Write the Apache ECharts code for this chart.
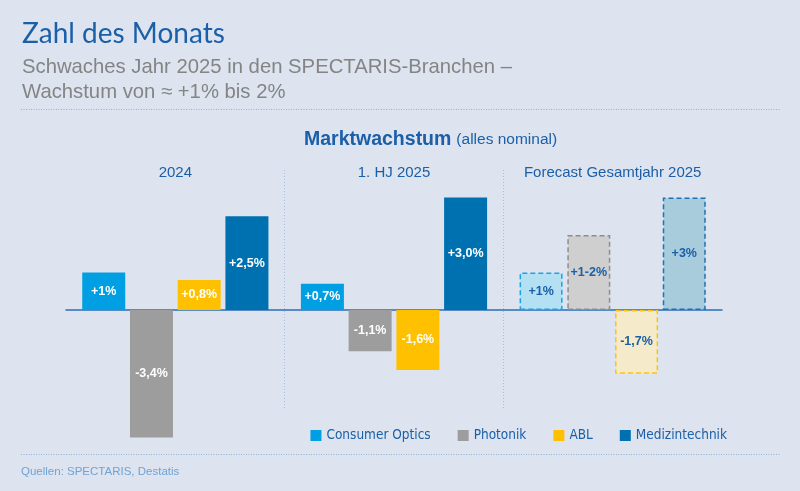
<!DOCTYPE html>
<html><head><meta charset="utf-8">
<script src="https://cdn.jsdelivr.net/npm/echarts@6/dist/echarts.min.js"></script>
<style>html,body{margin:0;padding:0;background:#dde4ef}#c{width:800px;height:491px}</style>
</head><body><div id="c"></div>
<script>
const categories = ['2024', '1. HJ 2025', 'Forecast Gesamtjahr 2025'];
const seriesNames = ['Consumer Optics', 'Photonik', 'ABL', 'Medizintechnik'];
const consumerOptics = [1, 0.7, 1];
const photonik = [-3.4, -1.1, 2];
const abl = [0.8, -1.6, -1.7];
const medizintechnik = [2.5, 3.0, 3];
const consumerLabels = ['+1%', '+0,7%', '+1%'];
const photonikLabels = ['-3,4%', '-1,1%', '+1-2%'];
const ablLabels = ['+0,8%', '-1,6%', '-1,7%'];
const medizinLabels = ['+2,5%', '+3,0%', '+3%'];
const forecastIndex = 2;

const BLUE = '#1a5fa8';
const chart = echarts.init(document.getElementById('c'), null, {renderer: 'canvas'});

function makeSeries(name, values, labels, color, fcFill, fcBorder) {
  return {
    type: 'bar', name: name, xAxisIndex: 0, yAxisIndex: 0,
    barWidth: 43, barGap: '11%',
    itemStyle: {color: color},
    label: {
      show: true, position: 'inside', color: '#fff', fontWeight: 'bold',
      fontSize: 12.5, fontFamily: 'Liberation Sans, Arial, sans-serif',
      formatter: p => labels[p.dataIndex]
    },
    data: values.map((v, i) => i === forecastIndex ? {
      value: v,
      itemStyle: {color: fcFill, borderColor: fcBorder, borderWidth: 1.5, borderType: [5, 3]},
      label: {color: BLUE}
    } : v)
  };
}

const option = {
  backgroundColor: '#dde4ef',
  animation: false,
  title: [
    {text: 'Zahl des Monats', left: 22, top: 19.5, padding: 0,
     textStyle: {fontFamily: 'Lato, sans-serif', fontWeight: 'normal', fontSize: 28, color: BLUE}},
    {text: 'Schwaches Jahr 2025 in den SPECTARIS-Branchen –\nWachstum von ≈ +1% bis 2%', left: 22, top: 55.5, padding: 0,
     textStyle: {fontFamily: 'Liberation Sans, Arial, sans-serif', fontWeight: 'normal', fontSize: 20.3, lineHeight: 24.5, color: '#848484'}},
    {text: '{b|Marktwachstum} {n|(alles nominal)}', left: 304, top: 129.5, padding: 0,
     textStyle: {rich: {
       b: {fontFamily: 'Liberation Sans, Arial, sans-serif', fontWeight: 'bold', fontSize: 19.5, color: BLUE},
       n: {fontFamily: 'Liberation Sans, Arial, sans-serif', fontWeight: 'normal', fontSize: 15.5, color: BLUE}
     }}},
    {text: 'Quellen: SPECTARIS, Destatis', left: 21, top: 466, padding: 0,
     textStyle: {fontFamily: 'Liberation Sans, Arial, sans-serif', fontWeight: 'normal', fontSize: 11.5, color: '#6fa2d6'}}
  ],
  legend: {
    data: seriesNames, right: 73, top: 428.5, padding: 0, icon: 'rect', itemWidth: 11, itemHeight: 11, itemGap: 27,
    textStyle: {fontFamily: 'DejaVu Sans Condensed, sans-serif', fontSize: 13.5, color: BLUE}
  },
  grid: [
    {left: 66, right: 78, top: 160, bottom: 31},
    {left: 66, right: 78, top: 170, bottom: 81}
  ],
  xAxis: [
    {type: 'category', gridIndex: 0, data: categories, position: 'bottom',
     axisLine: {onZero: true, lineStyle: {color: '#2a6db5', width: 1.5}},
     axisTick: {show: false}, axisLabel: {show: false}, splitLine: {show: false}},
    {type: 'category', gridIndex: 0, data: categories, position: 'top',
     axisLine: {show: false}, axisTick: {show: false}, splitLine: {show: false},
     axisLabel: {inside: true, interval: 0, margin: 5, fontFamily: 'Liberation Sans, Arial, sans-serif', fontSize: 15, color: BLUE}},
    {type: 'value', gridIndex: 1, min: 0, max: 3, interval: 1,
     axisLine: {show: false}, axisTick: {show: false}, axisLabel: {show: false},
     splitLine: {show: true, showMinLine: false, showMaxLine: false, lineStyle: {color: '#a7c0e0', type: [1, 2], width: 1}}}
  ],
  yAxis: [
    {type: 'value', gridIndex: 0, min: -4, max: 4, show: false},
    {type: 'value', gridIndex: 1, min: 0, max: 1, show: false}
  ],
  graphic: [
    {type: 'line', shape: {x1: 21, y1: 109.5, x2: 780, y2: 109.5}, style: {stroke: '#8fb3dc', lineWidth: 1, lineDash: [1, 1.5]}},
    {type: 'line', shape: {x1: 21, y1: 454.5, x2: 780, y2: 454.5}, style: {stroke: '#8fb3dc', lineWidth: 1, lineDash: [1, 1.5]}}
  ],
  series: [
    makeSeries(seriesNames[0], consumerOptics, consumerLabels, '#009fe3', '#b4e0f4', '#1ba3e6'),
    makeSeries(seriesNames[1], photonik, photonikLabels, '#9d9d9d', '#cfcfcf', '#8e8e8e'),
    makeSeries(seriesNames[2], abl, ablLabels, '#ffc000', '#f5ebca', '#ffc313'),
    makeSeries(seriesNames[3], medizintechnik, medizinLabels, '#0071b0', '#a9ccdd', '#1b73b3')
  ]
};
chart.setOption(option);
</script></body></html>
